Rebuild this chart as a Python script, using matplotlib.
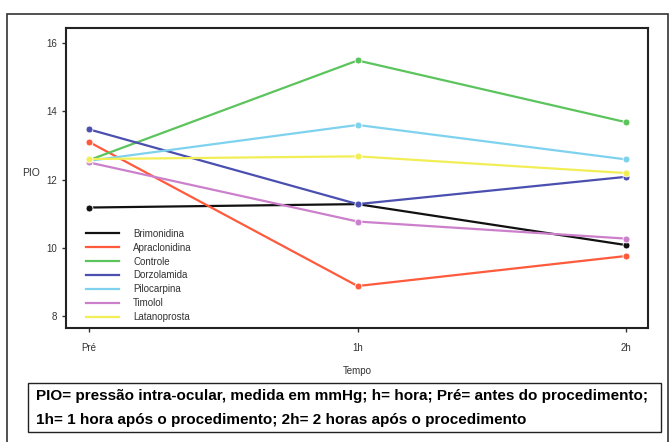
import matplotlib
matplotlib.use("Agg")
import matplotlib.pyplot as plt
from matplotlib.patches import Rectangle

plt.rcParams["font.family"] = ["Liberation Sans", "DejaVu Sans"]

tempos = ["Pré", "1h", "2h"]

brimonidina = [11.18, 11.28, 10.08]
apraclonidina = [13.1, 8.88, 9.76]
controle = [12.57, 15.49, 13.68]
dorzolamida = [13.47, 11.28, 12.08]
pilocarpina = [12.55, 13.6, 12.59]
timolol = [12.5, 10.77, 10.27]
latanoprosta = [12.6, 12.68, 12.19]

nomes = ["Brimonidina", "Apraclonidina", "Controle", "Dorzolamida",
         "Pilocarpina", "Timolol", "Latanoprosta"]
series = [brimonidina, apraclonidina, controle, dorzolamida,
          pilocarpina, timolol, latanoprosta]
cores = ["#111111", "#ff5a3c", "#5cc45c", "#4a4fb0",
         "#7fd2ee", "#cc80cc", "#f2ee55"]

yticks = [8, 10, 12, 14, 16]

fig = plt.figure(figsize=(6.69, 4.42), dpi=100)
ax = fig.add_axes([0.0987, 0.2579, 0.870, 0.6787])

x = range(len(tempos))
for nome, vals, cor in zip(nomes, series, cores):
    ax.plot(x, vals, color=cor, lw=1.6, label=nome,
            marker="o", markersize=5, markeredgecolor="white",
            markeredgewidth=0.6)

ax.set_xlim(-0.086, 2.082)
ax.set_ylim(7.65, 16.44)
ax.set_xticks(list(x))
ax.set_xticklabels(tempos)
ax.set_yticks(yticks)
ax.tick_params(labelsize=7, colors="#333333", length=3, width=1)
ax.tick_params(axis="x", pad=8)
for s in ax.spines.values():
    s.set_linewidth(1.5)
    s.set_color("#222222")

ax.set_xlabel("Tempo", fontsize=7, color="#333333", labelpad=9)
fig.text(22 / 669, 1 - 173 / 442, "PIO", fontsize=7.5, color="#333333",
         va="center", ha="left")

leg = ax.legend(loc="upper left", bbox_to_anchor=(0.02, 0.36),
                frameon=False, fontsize=7, handlelength=3.4,
                handletextpad=1.4, labelspacing=0.4)
for h in leg.legend_handles:
    h.set_marker("")
for t in leg.get_texts():
    t.set_color("#333333")

# moldura externa
fig.patches.append(Rectangle((7 / 669, -0.01), 661 / 669, 1 - 14 / 442 + 0.01,
                             transform=fig.transFigure, fill=False,
                             edgecolor="#333333", lw=1.2))
# caixa da legenda do texto
fig.patches.append(Rectangle((28 / 669, 1 - 432 / 442), 633 / 669, 49 / 442,
                             transform=fig.transFigure, fill=False,
                             edgecolor="#222222", lw=1.0))
fig.text(36 / 669, 1 - 396 / 442,
         "PIO= pressão intra-ocular, medida em mmHg; h= hora; Pré= antes do procedimento;",
         fontsize=11, fontweight="bold", va="center", ha="left")
fig.text(36 / 669, 1 - 420 / 442,
         "1h= 1 hora após o procedimento; 2h= 2 horas após o procedimento",
         fontsize=11, fontweight="bold", va="center", ha="left")

fig.savefig("out.png", dpi=100)
